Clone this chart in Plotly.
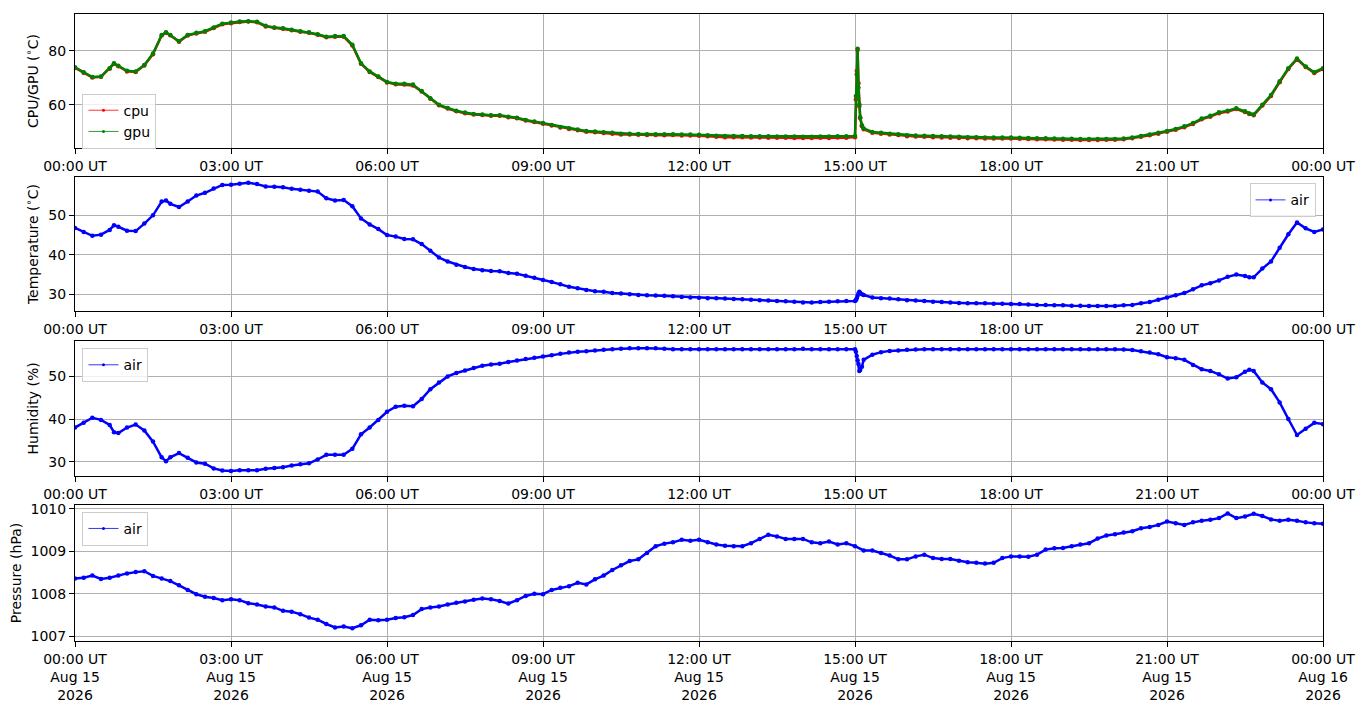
"""Sensor log plot: CPU/GPU, air temperature, humidity, pressure over one day."""

import pandas as pd
import plotly.graph_objects as go
from plotly.subplots import make_subplots

# time base: every 10 minutes from 00:00 to 24:00, plus a few extra samples
BASE_MIN = list(range(0, 1441, 10))
EXTRA_MIN = [45, 105, 901, 902, 903, 904, 905, 906, 908, 1355]

GPU = [
    73.9, 72.1, 70.3, 70.5, 73.6, 74.5,
    72.6, 72.4, 74.8, 79.0, 85.9, 85.9,
    83.6, 85.9, 86.7, 87.3, 88.7, 90.1,
    90.5, 90.9, 91.0, 90.8, 89.3, 88.7,
    88.4, 87.9, 87.3, 86.9, 86.2, 85.3,
    85.5, 85.5, 82.3, 75.4, 72.4, 70.5,
    68.5, 67.8, 67.8, 67.5, 65.1, 62.4,
    60.0, 58.8, 57.8, 57.1, 56.6, 56.4,
    56.1, 56.1, 55.6, 55.2, 54.4, 53.8,
    53.2, 52.5, 51.8, 51.3, 50.8, 50.3,
    50.1, 49.8, 49.6, 49.3, 49.3, 49.2,
    49.1, 49.1, 49.1, 49.1, 49.0, 49.0,
    48.9, 48.7, 48.5, 48.4, 48.4, 48.4,
    48.3, 48.3, 48.3, 48.2, 48.2, 48.2,
    48.1, 48.1, 48.2, 48.2, 48.3, 48.3,
    48.4, 51.2, 49.9, 49.6, 49.3, 49.1,
    48.7, 48.6, 48.5, 48.4, 48.3, 48.2,
    48.1, 48.0, 48.0, 47.9, 47.9, 47.9,
    47.9, 47.8, 47.7, 47.6, 47.6, 47.5,
    47.4, 47.4, 47.3, 47.3, 47.3, 47.3,
    47.3, 47.5, 47.9, 48.4, 49.0, 49.6,
    50.3, 51.0, 52.0, 53.2, 54.9, 55.9,
    57.2, 57.8, 58.7, 57.6, 56.4, 60.0,
    63.6, 68.7, 73.6, 77.2, 74.2, 72.1,
    73.6,
]
GPU_EXTRA = [75.4, 86.9, 63.3, 71.2, 80.8, 66.3, 60.2, 55.4, 52.4, 56.8]

CPU = [
    73.7, 71.9, 70.1, 70.4, 73.4, 74.3,
    72.4, 72.2, 74.6, 78.8, 85.7, 85.8,
    83.4, 85.7, 86.5, 87.1, 88.5, 89.9,
    90.3, 90.7, 90.9, 90.6, 89.1, 88.6,
    88.2, 87.7, 87.1, 86.7, 86.0, 85.1,
    85.3, 85.3, 82.0, 75.2, 72.2, 70.3,
    68.3, 67.6, 67.5, 67.2, 64.9, 62.2,
    59.8, 58.6, 57.6, 56.9, 56.4, 56.2,
    55.9, 55.9, 55.4, 55.0, 54.2, 53.6,
    53.0, 52.3, 51.6, 51.0, 50.6, 50.0,
    49.8, 49.5, 49.3, 49.0, 49.0, 48.9,
    48.8, 48.8, 48.7, 48.8, 48.6, 48.6,
    48.5, 48.3, 48.1, 48.0, 48.0, 48.0,
    47.9, 47.9, 47.8, 47.8, 47.8, 47.7,
    47.7, 47.7, 47.8, 47.7, 47.9, 47.8,
    48.0, 50.9, 49.6, 49.3, 49.0, 48.8,
    48.3, 48.2, 48.1, 48.0, 47.9, 47.8,
    47.7, 47.6, 47.6, 47.5, 47.5, 47.5,
    47.5, 47.4, 47.3, 47.2, 47.2, 47.1,
    47.0, 47.0, 46.9, 46.9, 46.9, 47.0,
    47.0, 47.2, 47.6, 48.1, 48.7, 49.3,
    50.0, 50.7, 51.7, 52.9, 54.6, 55.6,
    56.9, 57.5, 58.4, 57.3, 56.1, 59.7,
    63.3, 68.4, 73.3, 76.9, 74.0, 71.8,
    73.3,
]
CPU_EXTRA = [75.2, 86.7, 62.0, 72.5, 80.3, 68.0, 59.5, 55.0, 52.0, 56.6]

AIR_TEMP = [
    46.8, 45.8, 44.8, 45.1, 46.3, 47.1,
    46.1, 46.0, 47.9, 50.0, 53.5, 52.9,
    52.1, 53.5, 55.0, 55.7, 56.8, 57.7,
    57.75, 58.0, 58.25, 57.9, 57.3, 57.25,
    57.1, 56.7, 56.5, 56.25, 56.0, 54.3,
    53.75, 53.9, 52.3, 49.2, 47.7, 46.5,
    45.0, 44.6, 44.0, 43.9, 42.7, 41.0,
    39.3, 38.3, 37.5, 36.9, 36.4, 36.1,
    35.9, 35.8, 35.4, 35.2, 34.7, 34.2,
    33.6, 33.1, 32.5, 31.9, 31.5, 31.1,
    30.75, 30.6, 30.3, 30.2, 30.0, 29.8,
    29.75, 29.7, 29.6, 29.5, 29.3, 29.2,
    29.1, 29.0, 28.95, 28.9, 28.8, 28.7,
    28.6, 28.5, 28.4, 28.3, 28.2, 28.1,
    27.9, 27.9, 28.0, 28.1, 28.2, 28.3,
    28.3, 29.8, 29.2, 29.0, 28.9, 28.7,
    28.5, 28.4, 28.3, 28.1, 28.0, 27.9,
    27.75, 27.7, 27.7, 27.7, 27.6, 27.6,
    27.5, 27.5, 27.4, 27.3, 27.3, 27.2,
    27.2, 27.1, 27.1, 27.0, 27.0, 27.0,
    27.0, 27.2, 27.3, 27.7, 28.0, 28.6,
    29.2, 29.75, 30.3, 31.25, 32.25, 32.8,
    33.5, 34.4, 35.0, 34.6, 34.3, 36.5,
    38.3, 41.8, 45.2, 48.2, 46.7, 45.8,
    46.4,
]
AIR_TEMP_EXTRA = [47.5, 53.75, 28.5, 29.0, 29.6, 30.2, 30.6, 30.4, 30.0, 34.3]

HUMIDITY = [
    38.0, 39.1, 40.3, 39.8, 38.6, 36.7,
    38.0, 38.7, 37.3, 34.7, 31.0, 31.0,
    32.0, 30.9, 29.8, 29.5, 28.4, 27.9,
    27.8, 28.0, 28.0, 28.0, 28.3, 28.5,
    28.7, 29.1, 29.4, 29.6, 30.5, 31.6,
    31.6, 31.6, 33.0, 36.4, 38.0, 39.8,
    41.7, 42.9, 43.1, 43.0, 44.7, 47.0,
    48.6, 50.0, 50.8, 51.4, 52.0, 52.5,
    52.8, 53.0, 53.4, 53.75, 54.1, 54.4,
    54.7, 55.0, 55.3, 55.6, 55.8, 55.9,
    56.1, 56.25, 56.4, 56.5, 56.6, 56.6,
    56.6, 56.6, 56.5, 56.4, 56.4, 56.4,
    56.4, 56.4, 56.4, 56.4, 56.4, 56.4,
    56.4, 56.4, 56.4, 56.4, 56.4, 56.4,
    56.5, 56.4, 56.4, 56.4, 56.4, 56.4,
    56.4, 53.9, 55.1, 55.7, 56.0, 56.1,
    56.25, 56.3, 56.4, 56.4, 56.4, 56.4,
    56.4, 56.4, 56.4, 56.4, 56.4, 56.4,
    56.4, 56.4, 56.4, 56.4, 56.4, 56.4,
    56.4, 56.4, 56.4, 56.4, 56.4, 56.4,
    56.4, 56.3, 56.2, 55.9, 55.6, 55.2,
    54.5, 54.3, 53.9, 52.7, 51.7, 51.3,
    50.5, 49.5, 49.8, 51.1, 51.3, 48.6,
    47.0, 43.9, 40.0, 36.25, 37.7, 39.1,
    38.8,
]
HUMIDITY_EXTRA = [36.9, 30.1, 55.8, 54.8, 53.8, 52.9, 51.3, 51.5, 52.3, 51.6]

PRESSURE = [
    1008.36, 1008.38, 1008.43, 1008.35, 1008.38, 1008.43,
    1008.48, 1008.51, 1008.53, 1008.42, 1008.36, 1008.30,
    1008.20, 1008.09, 1007.99, 1007.93, 1007.90, 1007.85,
    1007.87, 1007.85, 1007.78, 1007.75, 1007.70, 1007.68,
    1007.60, 1007.58, 1007.52, 1007.44, 1007.39, 1007.29,
    1007.21, 1007.23, 1007.19, 1007.26, 1007.39, 1007.38,
    1007.39, 1007.43, 1007.45, 1007.50, 1007.64, 1007.68,
    1007.70, 1007.75, 1007.79, 1007.82, 1007.86, 1007.89,
    1007.87, 1007.83, 1007.77, 1007.85, 1007.95, 1008.00,
    1007.99, 1008.09, 1008.14, 1008.18, 1008.26, 1008.22,
    1008.34, 1008.43, 1008.56, 1008.67, 1008.77, 1008.81,
    1008.96, 1009.12, 1009.18, 1009.21, 1009.27, 1009.25,
    1009.27, 1009.21, 1009.16, 1009.13, 1009.12, 1009.12,
    1009.19, 1009.29, 1009.39, 1009.35, 1009.29, 1009.29,
    1009.29, 1009.21, 1009.19, 1009.23, 1009.16, 1009.19,
    1009.12, 1009.02, 1009.02, 1008.96, 1008.90, 1008.81,
    1008.81, 1008.88, 1008.92, 1008.84, 1008.82, 1008.82,
    1008.78, 1008.74, 1008.73, 1008.71, 1008.73, 1008.84,
    1008.88, 1008.88, 1008.87, 1008.92, 1009.04, 1009.07,
    1009.08, 1009.12, 1009.16, 1009.19, 1009.30, 1009.37,
    1009.40, 1009.44, 1009.47, 1009.54, 1009.57, 1009.62,
    1009.70, 1009.66, 1009.62, 1009.68, 1009.72, 1009.74,
    1009.78, 1009.89, 1009.78, 1009.82, 1009.88, 1009.83,
    1009.75, 1009.72, 1009.74, 1009.72, 1009.68, 1009.66,
    1009.65,
]

TICK_HOURS = [0, 3, 6, 9, 12, 15, 18, 21, 24]
TICK_TEXT = ["00:00 UT", "03:00 UT", "06:00 UT", "09:00 UT", "12:00 UT",
             "15:00 UT", "18:00 UT", "21:00 UT", "00:00 UT"]
TICK_DATE = ["Aug 15", "Aug 15", "Aug 15", "Aug 15", "Aug 15",
             "Aug 15", "Aug 15", "Aug 15", "Aug 16"]
TICK_YEAR = "2026"

START = pd.Timestamp("2026-08-15 00:00")
FONT = "DejaVu Sans, Liberation Sans, sans-serif"


def to_time(minutes):
    return [START + pd.Timedelta(minutes=m) for m in minutes]


def merge(base, extra):
    """Merge base samples (10 min grid) with the extra samples, sorted by time."""
    pts = sorted(list(zip(BASE_MIN, base)) + list(zip(EXTRA_MIN, extra)))
    return to_time([p[0] for p in pts]), [p[1] for p in pts]


fig = make_subplots(rows=4, cols=1)

series = [
    (1, "cpu", "#ff0000", *merge(CPU, CPU_EXTRA), "legend"),
    (1, "gpu", "#008000", *merge(GPU, GPU_EXTRA), "legend"),
    (2, "air", "#0000ff", *merge(AIR_TEMP, AIR_TEMP_EXTRA), "legend2"),
    (3, "air", "#0000ff", *merge(HUMIDITY, HUMIDITY_EXTRA), "legend3"),
    (4, "air", "#0000ff", to_time(BASE_MIN), PRESSURE, "legend4"),
]

for row, name, color, x, y, legend in series:
    # thick trace standing in for the dense one-minute samples
    fig.add_trace(
        go.Scatter(
            x=x, y=y, mode="lines+markers", name=name,
            line={"color": color, "width": 2.5},
            marker={"color": color, "size": 4.5},
            showlegend=False,
        ),
        row=row, col=1,
    )
    # legend-only entry with the thin matplotlib-like style
    fig.add_trace(
        go.Scatter(
            x=[None], y=[None], mode="lines+markers", name=name,
            line={"color": color, "width": 0.8},
            marker={"color": color, "size": 3},
            legend=legend,
        ),
        row=row, col=1,
    )

domains = [[0.786, 1.0], [0.526, 0.740], [0.263, 0.479], [0.0, 0.217]]
y_ranges = [[43.9, 93.7], [25.7, 59.7], [26.6, 58.4], [1006.89, 1010.09]]
y_ticks = [[60, 80], [30, 40, 50], [30, 40, 50], [1007, 1008, 1009, 1010]]
y_titles = ["CPU/GPU (<sup>∘</sup>C)", "Temperature (<sup>∘</sup>C)",
            "Humidity (%)", "Pressure (hPa)"]

tick_vals = [START + pd.Timedelta(hours=h) for h in TICK_HOURS]
bottom_text = [f"{t}<br>{d}<br>{TICK_YEAR}" for t, d in zip(TICK_TEXT, TICK_DATE)]

axis_style = {
    "showline": True, "mirror": True, "linecolor": "black", "linewidth": 1,
    "ticks": "outside", "ticklen": 5, "tickcolor": "black",
    "showgrid": True, "gridcolor": "#b0b0b0", "gridwidth": 0.8,
    "zeroline": False, "tickfont": {"size": 14, "color": "black", "family": FONT},
}

for i in range(4):
    row = i + 1
    fig.update_yaxes(
        domain=domains[i], range=y_ranges[i], tickvals=y_ticks[i],
        title_text=y_titles[i], title_font={"size": 14, "color": "black", "family": FONT},
        title_standoff=6, row=row, col=1, **axis_style,
    )
    fig.update_xaxes(
        type="date",
        range=[START, START + pd.Timedelta(hours=24)],
        tickvals=tick_vals,
        ticktext=bottom_text if row == 4 else TICK_TEXT,
        tickangle=0,
        row=row, col=1, **axis_style,
    )

legend_style = {
    "bgcolor": "rgba(255,255,255,0.8)", "bordercolor": "#cccccc", "borderwidth": 1,
    "font": {"size": 14, "color": "black", "family": FONT},
    "itemwidth": 30, "tracegroupgap": 2,
}

# the page body has an 8px margin, so the figure is 8px smaller than the window
fig.update_layout(
    width=1356,
    height=699,
    margin={"l": 67, "r": 41, "t": 2, "b": 66},
    paper_bgcolor="white",
    plot_bgcolor="white",
    font={"family": FONT, "color": "black"},
    legend={**legend_style, "x": 0.006, "y": 0.873, "xanchor": "left", "yanchor": "top"},
    legend2={**legend_style, "x": 0.994, "y": 0.730, "xanchor": "right", "yanchor": "top"},
    legend3={**legend_style, "x": 0.006, "y": 0.467, "xanchor": "left", "yanchor": "top"},
    legend4={**legend_style, "x": 0.006, "y": 0.206, "xanchor": "left", "yanchor": "top"},
)

fig.write_html("out.html")
